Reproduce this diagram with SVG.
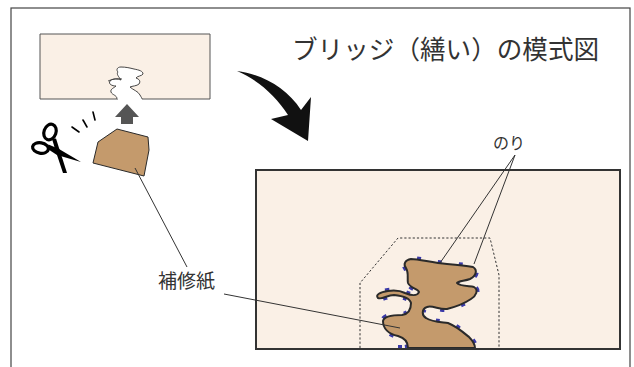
<svg xmlns="http://www.w3.org/2000/svg" width="634" height="367" viewBox="0 0 634 367">
  <defs>
    <style>
      .frame { fill: none; stroke: #444; stroke-width: 1.2; }
      .paper { fill: #FAF0E6; stroke: #333; }
      .patch { fill: #C49A6C; stroke: #2a2a2a; stroke-linejoin: round; }
      .glue { fill: none; stroke: #3a3aa8; stroke-width: 6; stroke-dasharray: 4 17; stroke-linejoin: round; }
      .leader { fill: none; stroke: #333; stroke-width: 1; }
      .outline { fill: none; stroke: #333; stroke-width: 1; stroke-dasharray: 2.2 2; }
      .label { font-family: "Noto Sans CJK JP", "Noto Sans", sans-serif; fill: #333; }
    </style>
  </defs>

  <rect x="0" y="0" width="634" height="367" fill="#fff"/>
  <!-- page frame -->
  <rect class="frame" x="11" y="8" width="619" height="380"/>

  <!-- title -->
  <text class="label" x="292" y="59" font-size="25.6">ブリッジ（繕い）の模式図</text>

  <!-- damaged sheet with a torn hole -->
  <g id="damaged-sheet">
    <path fill="#FAF0E6" stroke="none" d="M40,34 H210 V99 H40 Z"/>
    <path fill="none" stroke="#555" stroke-width="1" d="M118,99 H40 V34 H210 V99 H142"/>
    <path fill="#fff" stroke="#333" stroke-width="0.9" d="M117,99 C117,95 112,95 111,92 C110,89 114,88 116,86 C112,86 108,84 110,81 C113,78 118,79 121,80 C119,77 116,74 118,72 C116,70 117,67 121,67 C126,67 130,68 134,69 C139,70 143,71 143,74 C142,76 137,76 136,78 C139,79 141,81 139,84 C137,86 132,86 130,87 C133,90 138,91 140,95 C141,97 142,98 142,99"/>
    <path fill="none" stroke="#333" stroke-width="0.8" d="M108,81 C112,79 118,78 122,79"/>
  </g>

  <!-- small lift arrow -->
  <g id="lift-arrow">
    <polygon fill="#555" points="127,104 139,117 133,117 133,124 121,124 121,117 115,117"/>
  </g>

  <!-- cut-out repair paper -->
  <g id="repair-paper">
    <polygon class="patch" stroke-width="1" points="117,129 148,137 149,150 144,176 93,163 98,142"/>
  </g>

  <!-- scissors and cut marks -->
  <g id="scissors">
    <ellipse cx="50" cy="132" rx="6" ry="8" transform="rotate(20 50 132)" fill="none" stroke="#000" stroke-width="3.2"/>
    <ellipse cx="40.5" cy="148" rx="8" ry="5.2" transform="rotate(10 40.5 148)" fill="none" stroke="#000" stroke-width="3.2"/>
    <polygon fill="#000" points="52,139 56,138.5 67,173 63,173 56,152"/>
    <polygon fill="#000" points="47,148.5 48.5,144.5 59,149 81,162 57,155"/>
    <g stroke="#000" stroke-width="1.6" stroke-linecap="round">
      <line x1="72" y1="127" x2="79" y2="132"/>
      <line x1="83" y1="120" x2="87" y2="127"/>
      <line x1="93" y1="112" x2="95" y2="120"/>
    </g>
  </g>

  <!-- big curved arrow -->
  <g id="curved-arrow">
    <path fill="#111" d="M237,71 C262,74 287,88 301,110 L311,97 L308,141 L271,119 L288,115 C276,96 258,80 237,71 Z"/>
  </g>

  <!-- repaired sheet -->
  <g id="repaired-sheet">
    <rect class="paper" stroke-width="2" x="256" y="170" width="364" height="179"/>
    <polyline class="outline" points="360,348 360,283 398,238 490,238 499,275 499,348"/>
    <path class="glue" d="M408,348 C408,342 405,338 398,336 C388,334 383,328 383,321 C384,316 392,315 402,315 C409,314 411,309 411,303 C410,298 403,296 394,295 C387,295 382,300 378,298 C375,295 380,292 388,291 C395,290 401,291 405,293 C410,295 417,297 419,292 C418,289 410,288 408,283 C407,278 409,273 406,268 C403,264 405,260 411,259 C420,259 432,263 447,264 C458,265 467,266 473,267 C478,270 476,276 470,279 C465,281 458,281 457,283 C459,286 468,286 474,287 C479,290 476,296 471,299 C465,303 455,307 447,309 C440,310 432,305 427,307 C421,309 422,316 426,318 C432,322 440,322 448,323 C456,326 463,332 469,337 C473,341 475,344 475,348 L486,348 M398,348 L408,348"/>
    <path class="patch" stroke-width="2" d="M408,348 C408,342 405,338 398,336 C388,334 383,328 383,321 C384,316 392,315 402,315 C409,314 411,309 411,303 C410,298 403,296 394,295 C387,295 382,300 378,298 C375,295 380,292 388,291 C395,290 401,291 405,293 C410,295 417,297 419,292 C418,289 410,288 408,283 C407,278 409,273 406,268 C403,264 405,260 411,259 C420,259 432,263 447,264 C458,265 467,266 473,267 C478,270 476,276 470,279 C465,281 458,281 457,283 C459,286 468,286 474,287 C479,290 476,296 471,299 C465,303 455,307 447,309 C440,310 432,305 427,307 C421,309 422,316 426,318 C432,322 440,322 448,323 C456,326 463,332 469,337 C473,341 475,344 475,348 Z"/>
    <rect x="255" y="350" width="366" height="5" fill="#fff"/>
    <line x1="256" y1="349" x2="620" y2="349" stroke="#333" stroke-width="2"/>
  </g>

  <!-- labels and leaders -->
  <g id="connectors">
    <line class="leader" x1="135" y1="168" x2="187" y2="267"/>
    <line class="leader" x1="224" y1="294" x2="400" y2="328"/>
    <line class="leader" x1="515" y1="155" x2="440" y2="263"/>
    <line class="leader" x1="515" y1="155" x2="474" y2="264"/>
  </g>
  <g id="label-patch">
    <text class="label" x="158" y="288" font-size="19">補修紙</text>
  </g>
  <g id="label-glue">
    <text class="label" x="493" y="149" font-size="16">のり</text>
  </g>
</svg>
